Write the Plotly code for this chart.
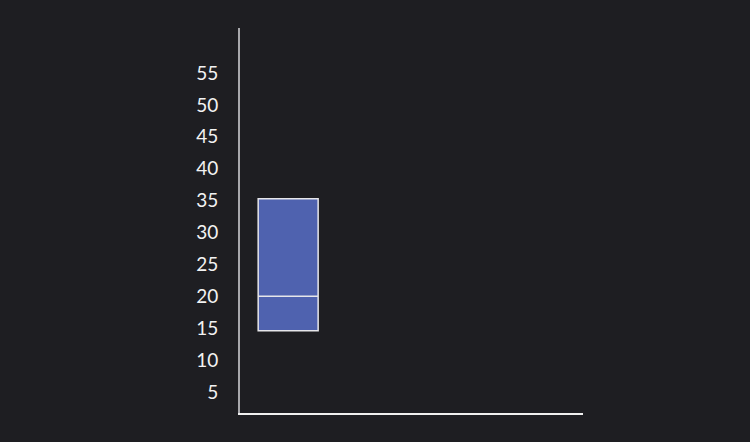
import plotly.graph_objects as go

# box summary values
categories = [0]
q1 = [14.6]
median = [20]
q3 = [35.3]
lower = [14.6]
upper = [35.3]

tick_vals = [5, 10, 15, 20, 25, 30, 35, 40, 45, 50, 55]

fig = go.Figure()
fig.add_trace(
    go.Box(
        x=categories,
        q1=q1,
        median=median,
        q3=q3,
        lowerfence=lower,
        upperfence=upper,
        width=0.61,
        fillcolor="#4f62af",
        line=dict(color="#e6e6ea", width=1.5),
        whiskerwidth=0,
        showlegend=False,
        hoverinfo="skip",
    )
)

fig.update_layout(
    width=750,
    height=442,
    margin=dict(l=240, r=167, t=28, b=29),
    paper_bgcolor="#1e1e22",
    plot_bgcolor="#1e1e22",
    font=dict(family="Lato, sans-serif", size=19, color="#f2f2f2"),
)
fig.update_xaxes(
    range=[-0.49, 3.0],
    showgrid=False,
    zeroline=False,
    showticklabels=False,
    ticks="",
    showline=True,
    linecolor="#f0f0f0",
    linewidth=2,
)
fig.update_yaxes(
    range=[1.7, 62.05],
    tickvals=tick_vals,
    showgrid=False,
    zeroline=False,
    showline=True,
    linecolor="#a8a8ac",
    linewidth=2,
    ticks="outside",
    ticklen=16,
    tickcolor="rgba(0,0,0,0)",
)

# drop the browser's default page margin so the chart sits at 0,0
fig.write_html(
    "out.html",
    config={"displayModeBar": False},
    post_script="document.body.style.margin='0';document.body.style.background='#1e1e22';",
)
